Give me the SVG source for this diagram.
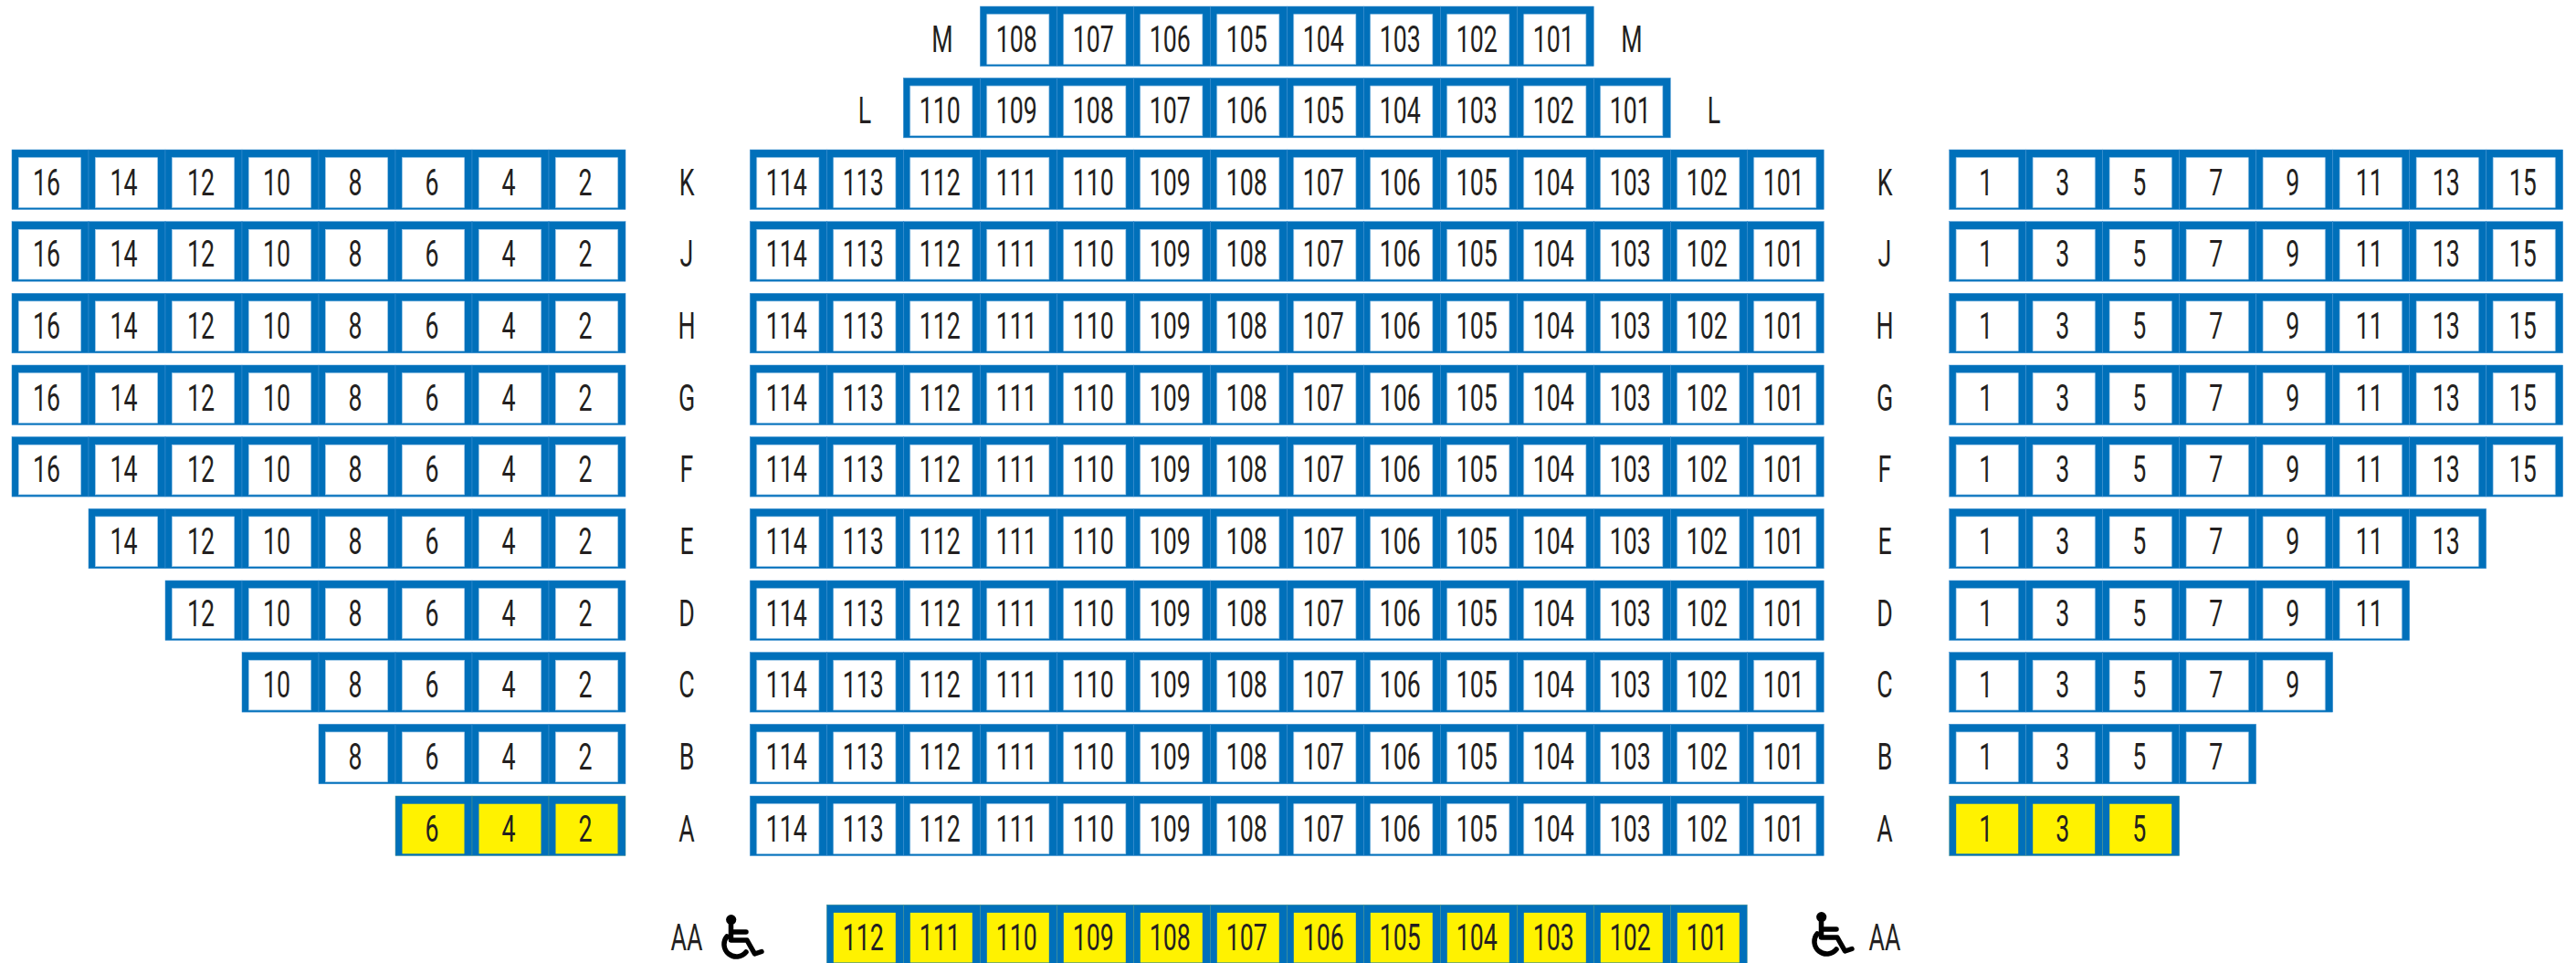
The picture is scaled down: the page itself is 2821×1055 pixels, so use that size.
<svg xmlns="http://www.w3.org/2000/svg" width="2821" height="1055" viewBox="0 0 2821 1055">
<style>
text{font-family:Roboto,"Liberation Sans",sans-serif;font-weight:400;font-size:40.5px;fill:#231F20;text-anchor:middle;transform-box:fill-box;transform-origin:center;transform:translateX(-2px) scaleX(.66)}
text.l{transform:scaleX(.66)}
.o{fill:#0070BA;stroke:#3F8FD0;stroke-width:.5}
.oy{fill:#0070BA;stroke:#4F9488;stroke-width:.5}
.w{fill:#fff;stroke:#A9CEEC;stroke-width:.7}
.y{fill:#FFF200}
.ic{fill:none;stroke:#000;stroke-width:5.5;stroke-linecap:round;stroke-linejoin:round}
</style>
<defs>
<g id="s"><rect class="o" y="-49.5" width="84" height="65.5"/><rect class="w" x="7.5" y="-40.8" width="68" height="54.6"/></g>
<g id="t"><rect class="oy" y="-49.5" width="84" height="65.5"/><rect class="y" x="7.5" y="-40.8" width="68" height="54.6"/></g>
<g id="wc"><circle cx="12.7" cy="5.6" r="5.6" fill="#000"/><path class="ic" d="M12.5 10V28H30L38.5 43L46 40.5M13 19H29M8 24A13.5 13.5 0 1 0 29 41"/></g>
</defs>
<rect width="2821" height="1055" fill="#fff"/>
<g id="row-M" transform="translate(0,56.5)"><text class="l" x="1032">M</text><text class="l" x="1787">M</text>
<g id="M108"><use x="1073.3" href="#s"/><text x="1115.3">108</text></g><g id="M107"><use x="1157.3" href="#s"/><text x="1199.3">107</text></g><g id="M106"><use x="1241.3" href="#s"/><text x="1283.3">106</text></g><g id="M105"><use x="1325.3" href="#s"/><text x="1367.3">105</text></g><g id="M104"><use x="1409.3" href="#s"/><text x="1451.3">104</text></g><g id="M103"><use x="1493.3" href="#s"/><text x="1535.3">103</text></g><g id="M102"><use x="1577.3" href="#s"/><text x="1619.3">102</text></g><g id="M101"><use x="1661.3" href="#s"/><text x="1703.3">101</text></g></g>
<g id="row-L" transform="translate(0,134.9)"><text class="l" x="947">L</text><text class="l" x="1877">L</text>
<g id="L110"><use x="989.3" href="#s"/><text x="1031.3">110</text></g><g id="L109"><use x="1073.3" href="#s"/><text x="1115.3">109</text></g><g id="L108"><use x="1157.3" href="#s"/><text x="1199.3">108</text></g><g id="L107"><use x="1241.3" href="#s"/><text x="1283.3">107</text></g><g id="L106"><use x="1325.3" href="#s"/><text x="1367.3">106</text></g><g id="L105"><use x="1409.3" href="#s"/><text x="1451.3">105</text></g><g id="L104"><use x="1493.3" href="#s"/><text x="1535.3">104</text></g><g id="L103"><use x="1577.3" href="#s"/><text x="1619.3">103</text></g><g id="L102"><use x="1661.3" href="#s"/><text x="1703.3">102</text></g><g id="L101"><use x="1745.3" href="#s"/><text x="1787.3">101</text></g></g>
<g id="row-K" transform="translate(0,213.5)"><text class="l" x="752">K</text><text class="l" x="2064">K</text>
<g id="KL16"><use x="13" href="#s"/><text x="53">16</text></g><g id="KL14"><use x="97" href="#s"/><text x="137.5">14</text></g><g id="KL12"><use x="181" href="#s"/><text x="222">12</text></g><g id="KL10"><use x="265" href="#s"/><text x="305">10</text></g><g id="KL8"><use x="349" href="#s"/><text x="391">8</text></g><g id="KL6"><use x="433" href="#s"/><text x="475">6</text></g><g id="KL4"><use x="517" href="#s"/><text x="559">4</text></g><g id="KL2"><use x="601" href="#s"/><text x="643">2</text></g>
<g id="KC114"><use x="821.3" href="#s"/><text x="863.3">114</text></g><g id="KC113"><use x="905.3" href="#s"/><text x="947.3">113</text></g><g id="KC112"><use x="989.3" href="#s"/><text x="1031.3">112</text></g><g id="KC111"><use x="1073.3" href="#s"/><text x="1115.3">111</text></g><g id="KC110"><use x="1157.3" href="#s"/><text x="1199.3">110</text></g><g id="KC109"><use x="1241.3" href="#s"/><text x="1283.3">109</text></g><g id="KC108"><use x="1325.3" href="#s"/><text x="1367.3">108</text></g><g id="KC107"><use x="1409.3" href="#s"/><text x="1451.3">107</text></g><g id="KC106"><use x="1493.3" href="#s"/><text x="1535.3">106</text></g><g id="KC105"><use x="1577.3" href="#s"/><text x="1619.3">105</text></g><g id="KC104"><use x="1661.3" href="#s"/><text x="1703.3">104</text></g><g id="KC103"><use x="1745.3" href="#s"/><text x="1787.3">103</text></g><g id="KC102"><use x="1829.3" href="#s"/><text x="1871.3">102</text></g><g id="KC101"><use x="1913.3" href="#s"/><text x="1955.3">101</text></g>
<g id="KR1"><use x="2134.7" href="#s"/><text x="2176.7">1</text></g><g id="KR3"><use x="2218.7" href="#s"/><text x="2260.7">3</text></g><g id="KR5"><use x="2302.7" href="#s"/><text x="2344.7">5</text></g><g id="KR7"><use x="2386.7" href="#s"/><text x="2428.7">7</text></g><g id="KR9"><use x="2470.7" href="#s"/><text x="2512.7">9</text></g><g id="KR11"><use x="2554.7" href="#s"/><text x="2596.7">11</text></g><g id="KR13"><use x="2638.7" href="#s"/><text x="2680.7">13</text></g><g id="KR15"><use x="2722.7" href="#s"/><text x="2764.7">15</text></g></g>
<g id="row-J" transform="translate(0,292.2)"><text class="l" x="752">J</text><text class="l" x="2064">J</text>
<g id="JL16"><use x="13" href="#s"/><text x="53">16</text></g><g id="JL14"><use x="97" href="#s"/><text x="137.5">14</text></g><g id="JL12"><use x="181" href="#s"/><text x="222">12</text></g><g id="JL10"><use x="265" href="#s"/><text x="305">10</text></g><g id="JL8"><use x="349" href="#s"/><text x="391">8</text></g><g id="JL6"><use x="433" href="#s"/><text x="475">6</text></g><g id="JL4"><use x="517" href="#s"/><text x="559">4</text></g><g id="JL2"><use x="601" href="#s"/><text x="643">2</text></g>
<g id="JC114"><use x="821.3" href="#s"/><text x="863.3">114</text></g><g id="JC113"><use x="905.3" href="#s"/><text x="947.3">113</text></g><g id="JC112"><use x="989.3" href="#s"/><text x="1031.3">112</text></g><g id="JC111"><use x="1073.3" href="#s"/><text x="1115.3">111</text></g><g id="JC110"><use x="1157.3" href="#s"/><text x="1199.3">110</text></g><g id="JC109"><use x="1241.3" href="#s"/><text x="1283.3">109</text></g><g id="JC108"><use x="1325.3" href="#s"/><text x="1367.3">108</text></g><g id="JC107"><use x="1409.3" href="#s"/><text x="1451.3">107</text></g><g id="JC106"><use x="1493.3" href="#s"/><text x="1535.3">106</text></g><g id="JC105"><use x="1577.3" href="#s"/><text x="1619.3">105</text></g><g id="JC104"><use x="1661.3" href="#s"/><text x="1703.3">104</text></g><g id="JC103"><use x="1745.3" href="#s"/><text x="1787.3">103</text></g><g id="JC102"><use x="1829.3" href="#s"/><text x="1871.3">102</text></g><g id="JC101"><use x="1913.3" href="#s"/><text x="1955.3">101</text></g>
<g id="JR1"><use x="2134.7" href="#s"/><text x="2176.7">1</text></g><g id="JR3"><use x="2218.7" href="#s"/><text x="2260.7">3</text></g><g id="JR5"><use x="2302.7" href="#s"/><text x="2344.7">5</text></g><g id="JR7"><use x="2386.7" href="#s"/><text x="2428.7">7</text></g><g id="JR9"><use x="2470.7" href="#s"/><text x="2512.7">9</text></g><g id="JR11"><use x="2554.7" href="#s"/><text x="2596.7">11</text></g><g id="JR13"><use x="2638.7" href="#s"/><text x="2680.7">13</text></g><g id="JR15"><use x="2722.7" href="#s"/><text x="2764.7">15</text></g></g>
<g id="row-H" transform="translate(0,370.8)"><text class="l" x="752">H</text><text class="l" x="2064">H</text>
<g id="HL16"><use x="13" href="#s"/><text x="53">16</text></g><g id="HL14"><use x="97" href="#s"/><text x="137.5">14</text></g><g id="HL12"><use x="181" href="#s"/><text x="222">12</text></g><g id="HL10"><use x="265" href="#s"/><text x="305">10</text></g><g id="HL8"><use x="349" href="#s"/><text x="391">8</text></g><g id="HL6"><use x="433" href="#s"/><text x="475">6</text></g><g id="HL4"><use x="517" href="#s"/><text x="559">4</text></g><g id="HL2"><use x="601" href="#s"/><text x="643">2</text></g>
<g id="HC114"><use x="821.3" href="#s"/><text x="863.3">114</text></g><g id="HC113"><use x="905.3" href="#s"/><text x="947.3">113</text></g><g id="HC112"><use x="989.3" href="#s"/><text x="1031.3">112</text></g><g id="HC111"><use x="1073.3" href="#s"/><text x="1115.3">111</text></g><g id="HC110"><use x="1157.3" href="#s"/><text x="1199.3">110</text></g><g id="HC109"><use x="1241.3" href="#s"/><text x="1283.3">109</text></g><g id="HC108"><use x="1325.3" href="#s"/><text x="1367.3">108</text></g><g id="HC107"><use x="1409.3" href="#s"/><text x="1451.3">107</text></g><g id="HC106"><use x="1493.3" href="#s"/><text x="1535.3">106</text></g><g id="HC105"><use x="1577.3" href="#s"/><text x="1619.3">105</text></g><g id="HC104"><use x="1661.3" href="#s"/><text x="1703.3">104</text></g><g id="HC103"><use x="1745.3" href="#s"/><text x="1787.3">103</text></g><g id="HC102"><use x="1829.3" href="#s"/><text x="1871.3">102</text></g><g id="HC101"><use x="1913.3" href="#s"/><text x="1955.3">101</text></g>
<g id="HR1"><use x="2134.7" href="#s"/><text x="2176.7">1</text></g><g id="HR3"><use x="2218.7" href="#s"/><text x="2260.7">3</text></g><g id="HR5"><use x="2302.7" href="#s"/><text x="2344.7">5</text></g><g id="HR7"><use x="2386.7" href="#s"/><text x="2428.7">7</text></g><g id="HR9"><use x="2470.7" href="#s"/><text x="2512.7">9</text></g><g id="HR11"><use x="2554.7" href="#s"/><text x="2596.7">11</text></g><g id="HR13"><use x="2638.7" href="#s"/><text x="2680.7">13</text></g><g id="HR15"><use x="2722.7" href="#s"/><text x="2764.7">15</text></g></g>
<g id="row-G" transform="translate(0,449.5)"><text class="l" x="752">G</text><text class="l" x="2064">G</text>
<g id="GL16"><use x="13" href="#s"/><text x="53">16</text></g><g id="GL14"><use x="97" href="#s"/><text x="137.5">14</text></g><g id="GL12"><use x="181" href="#s"/><text x="222">12</text></g><g id="GL10"><use x="265" href="#s"/><text x="305">10</text></g><g id="GL8"><use x="349" href="#s"/><text x="391">8</text></g><g id="GL6"><use x="433" href="#s"/><text x="475">6</text></g><g id="GL4"><use x="517" href="#s"/><text x="559">4</text></g><g id="GL2"><use x="601" href="#s"/><text x="643">2</text></g>
<g id="GC114"><use x="821.3" href="#s"/><text x="863.3">114</text></g><g id="GC113"><use x="905.3" href="#s"/><text x="947.3">113</text></g><g id="GC112"><use x="989.3" href="#s"/><text x="1031.3">112</text></g><g id="GC111"><use x="1073.3" href="#s"/><text x="1115.3">111</text></g><g id="GC110"><use x="1157.3" href="#s"/><text x="1199.3">110</text></g><g id="GC109"><use x="1241.3" href="#s"/><text x="1283.3">109</text></g><g id="GC108"><use x="1325.3" href="#s"/><text x="1367.3">108</text></g><g id="GC107"><use x="1409.3" href="#s"/><text x="1451.3">107</text></g><g id="GC106"><use x="1493.3" href="#s"/><text x="1535.3">106</text></g><g id="GC105"><use x="1577.3" href="#s"/><text x="1619.3">105</text></g><g id="GC104"><use x="1661.3" href="#s"/><text x="1703.3">104</text></g><g id="GC103"><use x="1745.3" href="#s"/><text x="1787.3">103</text></g><g id="GC102"><use x="1829.3" href="#s"/><text x="1871.3">102</text></g><g id="GC101"><use x="1913.3" href="#s"/><text x="1955.3">101</text></g>
<g id="GR1"><use x="2134.7" href="#s"/><text x="2176.7">1</text></g><g id="GR3"><use x="2218.7" href="#s"/><text x="2260.7">3</text></g><g id="GR5"><use x="2302.7" href="#s"/><text x="2344.7">5</text></g><g id="GR7"><use x="2386.7" href="#s"/><text x="2428.7">7</text></g><g id="GR9"><use x="2470.7" href="#s"/><text x="2512.7">9</text></g><g id="GR11"><use x="2554.7" href="#s"/><text x="2596.7">11</text></g><g id="GR13"><use x="2638.7" href="#s"/><text x="2680.7">13</text></g><g id="GR15"><use x="2722.7" href="#s"/><text x="2764.7">15</text></g></g>
<g id="row-F" transform="translate(0,528.1)"><text class="l" x="752">F</text><text class="l" x="2064">F</text>
<g id="FL16"><use x="13" href="#s"/><text x="53">16</text></g><g id="FL14"><use x="97" href="#s"/><text x="137.5">14</text></g><g id="FL12"><use x="181" href="#s"/><text x="222">12</text></g><g id="FL10"><use x="265" href="#s"/><text x="305">10</text></g><g id="FL8"><use x="349" href="#s"/><text x="391">8</text></g><g id="FL6"><use x="433" href="#s"/><text x="475">6</text></g><g id="FL4"><use x="517" href="#s"/><text x="559">4</text></g><g id="FL2"><use x="601" href="#s"/><text x="643">2</text></g>
<g id="FC114"><use x="821.3" href="#s"/><text x="863.3">114</text></g><g id="FC113"><use x="905.3" href="#s"/><text x="947.3">113</text></g><g id="FC112"><use x="989.3" href="#s"/><text x="1031.3">112</text></g><g id="FC111"><use x="1073.3" href="#s"/><text x="1115.3">111</text></g><g id="FC110"><use x="1157.3" href="#s"/><text x="1199.3">110</text></g><g id="FC109"><use x="1241.3" href="#s"/><text x="1283.3">109</text></g><g id="FC108"><use x="1325.3" href="#s"/><text x="1367.3">108</text></g><g id="FC107"><use x="1409.3" href="#s"/><text x="1451.3">107</text></g><g id="FC106"><use x="1493.3" href="#s"/><text x="1535.3">106</text></g><g id="FC105"><use x="1577.3" href="#s"/><text x="1619.3">105</text></g><g id="FC104"><use x="1661.3" href="#s"/><text x="1703.3">104</text></g><g id="FC103"><use x="1745.3" href="#s"/><text x="1787.3">103</text></g><g id="FC102"><use x="1829.3" href="#s"/><text x="1871.3">102</text></g><g id="FC101"><use x="1913.3" href="#s"/><text x="1955.3">101</text></g>
<g id="FR1"><use x="2134.7" href="#s"/><text x="2176.7">1</text></g><g id="FR3"><use x="2218.7" href="#s"/><text x="2260.7">3</text></g><g id="FR5"><use x="2302.7" href="#s"/><text x="2344.7">5</text></g><g id="FR7"><use x="2386.7" href="#s"/><text x="2428.7">7</text></g><g id="FR9"><use x="2470.7" href="#s"/><text x="2512.7">9</text></g><g id="FR11"><use x="2554.7" href="#s"/><text x="2596.7">11</text></g><g id="FR13"><use x="2638.7" href="#s"/><text x="2680.7">13</text></g><g id="FR15"><use x="2722.7" href="#s"/><text x="2764.7">15</text></g></g>
<g id="row-E" transform="translate(0,606.8)"><text class="l" x="752">E</text><text class="l" x="2064">E</text>
<g id="EL14"><use x="97" href="#s"/><text x="137.5">14</text></g><g id="EL12"><use x="181" href="#s"/><text x="222">12</text></g><g id="EL10"><use x="265" href="#s"/><text x="305">10</text></g><g id="EL8"><use x="349" href="#s"/><text x="391">8</text></g><g id="EL6"><use x="433" href="#s"/><text x="475">6</text></g><g id="EL4"><use x="517" href="#s"/><text x="559">4</text></g><g id="EL2"><use x="601" href="#s"/><text x="643">2</text></g>
<g id="EC114"><use x="821.3" href="#s"/><text x="863.3">114</text></g><g id="EC113"><use x="905.3" href="#s"/><text x="947.3">113</text></g><g id="EC112"><use x="989.3" href="#s"/><text x="1031.3">112</text></g><g id="EC111"><use x="1073.3" href="#s"/><text x="1115.3">111</text></g><g id="EC110"><use x="1157.3" href="#s"/><text x="1199.3">110</text></g><g id="EC109"><use x="1241.3" href="#s"/><text x="1283.3">109</text></g><g id="EC108"><use x="1325.3" href="#s"/><text x="1367.3">108</text></g><g id="EC107"><use x="1409.3" href="#s"/><text x="1451.3">107</text></g><g id="EC106"><use x="1493.3" href="#s"/><text x="1535.3">106</text></g><g id="EC105"><use x="1577.3" href="#s"/><text x="1619.3">105</text></g><g id="EC104"><use x="1661.3" href="#s"/><text x="1703.3">104</text></g><g id="EC103"><use x="1745.3" href="#s"/><text x="1787.3">103</text></g><g id="EC102"><use x="1829.3" href="#s"/><text x="1871.3">102</text></g><g id="EC101"><use x="1913.3" href="#s"/><text x="1955.3">101</text></g>
<g id="ER1"><use x="2134.7" href="#s"/><text x="2176.7">1</text></g><g id="ER3"><use x="2218.7" href="#s"/><text x="2260.7">3</text></g><g id="ER5"><use x="2302.7" href="#s"/><text x="2344.7">5</text></g><g id="ER7"><use x="2386.7" href="#s"/><text x="2428.7">7</text></g><g id="ER9"><use x="2470.7" href="#s"/><text x="2512.7">9</text></g><g id="ER11"><use x="2554.7" href="#s"/><text x="2596.7">11</text></g><g id="ER13"><use x="2638.7" href="#s"/><text x="2680.7">13</text></g></g>
<g id="row-D" transform="translate(0,685.5)"><text class="l" x="752">D</text><text class="l" x="2064">D</text>
<g id="DL12"><use x="181" href="#s"/><text x="222">12</text></g><g id="DL10"><use x="265" href="#s"/><text x="305">10</text></g><g id="DL8"><use x="349" href="#s"/><text x="391">8</text></g><g id="DL6"><use x="433" href="#s"/><text x="475">6</text></g><g id="DL4"><use x="517" href="#s"/><text x="559">4</text></g><g id="DL2"><use x="601" href="#s"/><text x="643">2</text></g>
<g id="DC114"><use x="821.3" href="#s"/><text x="863.3">114</text></g><g id="DC113"><use x="905.3" href="#s"/><text x="947.3">113</text></g><g id="DC112"><use x="989.3" href="#s"/><text x="1031.3">112</text></g><g id="DC111"><use x="1073.3" href="#s"/><text x="1115.3">111</text></g><g id="DC110"><use x="1157.3" href="#s"/><text x="1199.3">110</text></g><g id="DC109"><use x="1241.3" href="#s"/><text x="1283.3">109</text></g><g id="DC108"><use x="1325.3" href="#s"/><text x="1367.3">108</text></g><g id="DC107"><use x="1409.3" href="#s"/><text x="1451.3">107</text></g><g id="DC106"><use x="1493.3" href="#s"/><text x="1535.3">106</text></g><g id="DC105"><use x="1577.3" href="#s"/><text x="1619.3">105</text></g><g id="DC104"><use x="1661.3" href="#s"/><text x="1703.3">104</text></g><g id="DC103"><use x="1745.3" href="#s"/><text x="1787.3">103</text></g><g id="DC102"><use x="1829.3" href="#s"/><text x="1871.3">102</text></g><g id="DC101"><use x="1913.3" href="#s"/><text x="1955.3">101</text></g>
<g id="DR1"><use x="2134.7" href="#s"/><text x="2176.7">1</text></g><g id="DR3"><use x="2218.7" href="#s"/><text x="2260.7">3</text></g><g id="DR5"><use x="2302.7" href="#s"/><text x="2344.7">5</text></g><g id="DR7"><use x="2386.7" href="#s"/><text x="2428.7">7</text></g><g id="DR9"><use x="2470.7" href="#s"/><text x="2512.7">9</text></g><g id="DR11"><use x="2554.7" href="#s"/><text x="2596.7">11</text></g></g>
<g id="row-C" transform="translate(0,764.1)"><text class="l" x="752">C</text><text class="l" x="2064">C</text>
<g id="CL10"><use x="265" href="#s"/><text x="305">10</text></g><g id="CL8"><use x="349" href="#s"/><text x="391">8</text></g><g id="CL6"><use x="433" href="#s"/><text x="475">6</text></g><g id="CL4"><use x="517" href="#s"/><text x="559">4</text></g><g id="CL2"><use x="601" href="#s"/><text x="643">2</text></g>
<g id="CC114"><use x="821.3" href="#s"/><text x="863.3">114</text></g><g id="CC113"><use x="905.3" href="#s"/><text x="947.3">113</text></g><g id="CC112"><use x="989.3" href="#s"/><text x="1031.3">112</text></g><g id="CC111"><use x="1073.3" href="#s"/><text x="1115.3">111</text></g><g id="CC110"><use x="1157.3" href="#s"/><text x="1199.3">110</text></g><g id="CC109"><use x="1241.3" href="#s"/><text x="1283.3">109</text></g><g id="CC108"><use x="1325.3" href="#s"/><text x="1367.3">108</text></g><g id="CC107"><use x="1409.3" href="#s"/><text x="1451.3">107</text></g><g id="CC106"><use x="1493.3" href="#s"/><text x="1535.3">106</text></g><g id="CC105"><use x="1577.3" href="#s"/><text x="1619.3">105</text></g><g id="CC104"><use x="1661.3" href="#s"/><text x="1703.3">104</text></g><g id="CC103"><use x="1745.3" href="#s"/><text x="1787.3">103</text></g><g id="CC102"><use x="1829.3" href="#s"/><text x="1871.3">102</text></g><g id="CC101"><use x="1913.3" href="#s"/><text x="1955.3">101</text></g>
<g id="CR1"><use x="2134.7" href="#s"/><text x="2176.7">1</text></g><g id="CR3"><use x="2218.7" href="#s"/><text x="2260.7">3</text></g><g id="CR5"><use x="2302.7" href="#s"/><text x="2344.7">5</text></g><g id="CR7"><use x="2386.7" href="#s"/><text x="2428.7">7</text></g><g id="CR9"><use x="2470.7" href="#s"/><text x="2512.7">9</text></g></g>
<g id="row-B" transform="translate(0,842.8)"><text class="l" x="752">B</text><text class="l" x="2064">B</text>
<g id="BL8"><use x="349" href="#s"/><text x="391">8</text></g><g id="BL6"><use x="433" href="#s"/><text x="475">6</text></g><g id="BL4"><use x="517" href="#s"/><text x="559">4</text></g><g id="BL2"><use x="601" href="#s"/><text x="643">2</text></g>
<g id="BC114"><use x="821.3" href="#s"/><text x="863.3">114</text></g><g id="BC113"><use x="905.3" href="#s"/><text x="947.3">113</text></g><g id="BC112"><use x="989.3" href="#s"/><text x="1031.3">112</text></g><g id="BC111"><use x="1073.3" href="#s"/><text x="1115.3">111</text></g><g id="BC110"><use x="1157.3" href="#s"/><text x="1199.3">110</text></g><g id="BC109"><use x="1241.3" href="#s"/><text x="1283.3">109</text></g><g id="BC108"><use x="1325.3" href="#s"/><text x="1367.3">108</text></g><g id="BC107"><use x="1409.3" href="#s"/><text x="1451.3">107</text></g><g id="BC106"><use x="1493.3" href="#s"/><text x="1535.3">106</text></g><g id="BC105"><use x="1577.3" href="#s"/><text x="1619.3">105</text></g><g id="BC104"><use x="1661.3" href="#s"/><text x="1703.3">104</text></g><g id="BC103"><use x="1745.3" href="#s"/><text x="1787.3">103</text></g><g id="BC102"><use x="1829.3" href="#s"/><text x="1871.3">102</text></g><g id="BC101"><use x="1913.3" href="#s"/><text x="1955.3">101</text></g>
<g id="BR1"><use x="2134.7" href="#s"/><text x="2176.7">1</text></g><g id="BR3"><use x="2218.7" href="#s"/><text x="2260.7">3</text></g><g id="BR5"><use x="2302.7" href="#s"/><text x="2344.7">5</text></g><g id="BR7"><use x="2386.7" href="#s"/><text x="2428.7">7</text></g></g>
<g id="row-A" transform="translate(0,921.5)"><text class="l" x="752">A</text><text class="l" x="2064">A</text>
<g id="AL6"><use x="433" href="#t"/><text x="475">6</text></g><g id="AL4"><use x="517" href="#t"/><text x="559">4</text></g><g id="AL2"><use x="601" href="#t"/><text x="643">2</text></g>
<g id="AC114"><use x="821.3" href="#s"/><text x="863.3">114</text></g><g id="AC113"><use x="905.3" href="#s"/><text x="947.3">113</text></g><g id="AC112"><use x="989.3" href="#s"/><text x="1031.3">112</text></g><g id="AC111"><use x="1073.3" href="#s"/><text x="1115.3">111</text></g><g id="AC110"><use x="1157.3" href="#s"/><text x="1199.3">110</text></g><g id="AC109"><use x="1241.3" href="#s"/><text x="1283.3">109</text></g><g id="AC108"><use x="1325.3" href="#s"/><text x="1367.3">108</text></g><g id="AC107"><use x="1409.3" href="#s"/><text x="1451.3">107</text></g><g id="AC106"><use x="1493.3" href="#s"/><text x="1535.3">106</text></g><g id="AC105"><use x="1577.3" href="#s"/><text x="1619.3">105</text></g><g id="AC104"><use x="1661.3" href="#s"/><text x="1703.3">104</text></g><g id="AC103"><use x="1745.3" href="#s"/><text x="1787.3">103</text></g><g id="AC102"><use x="1829.3" href="#s"/><text x="1871.3">102</text></g><g id="AC101"><use x="1913.3" href="#s"/><text x="1955.3">101</text></g>
<g id="AR1"><use x="2134.7" href="#t"/><text x="2176.7">1</text></g><g id="AR3"><use x="2218.7" href="#t"/><text x="2260.7">3</text></g><g id="AR5"><use x="2302.7" href="#t"/><text x="2344.7">5</text></g></g>
<g id="row-AA" transform="translate(0,1040.7)"><text class="l" x="752">AA</text><text class="l" x="2064">AA</text>
<g id="AA112"><use x="905.3" href="#t"/><text x="947.3">112</text></g><g id="AA111"><use x="989.3" href="#t"/><text x="1031.3">111</text></g><g id="AA110"><use x="1073.3" href="#t"/><text x="1115.3">110</text></g><g id="AA109"><use x="1157.3" href="#t"/><text x="1199.3">109</text></g><g id="AA108"><use x="1241.3" href="#t"/><text x="1283.3">108</text></g><g id="AA107"><use x="1325.3" href="#t"/><text x="1367.3">107</text></g><g id="AA106"><use x="1409.3" href="#t"/><text x="1451.3">106</text></g><g id="AA105"><use x="1493.3" href="#t"/><text x="1535.3">105</text></g><g id="AA104"><use x="1577.3" href="#t"/><text x="1619.3">104</text></g><g id="AA103"><use x="1661.3" href="#t"/><text x="1703.3">103</text></g><g id="AA102"><use x="1745.3" href="#t"/><text x="1787.3">102</text></g><g id="AA101"><use x="1829.3" href="#t"/><text x="1871.3">101</text></g></g>
<g id="wheelchair-left" transform="translate(788,1002)"><use href="#wc"/></g>
<g id="wheelchair-right" transform="translate(1982,999)"><use href="#wc"/></g>
</svg>
